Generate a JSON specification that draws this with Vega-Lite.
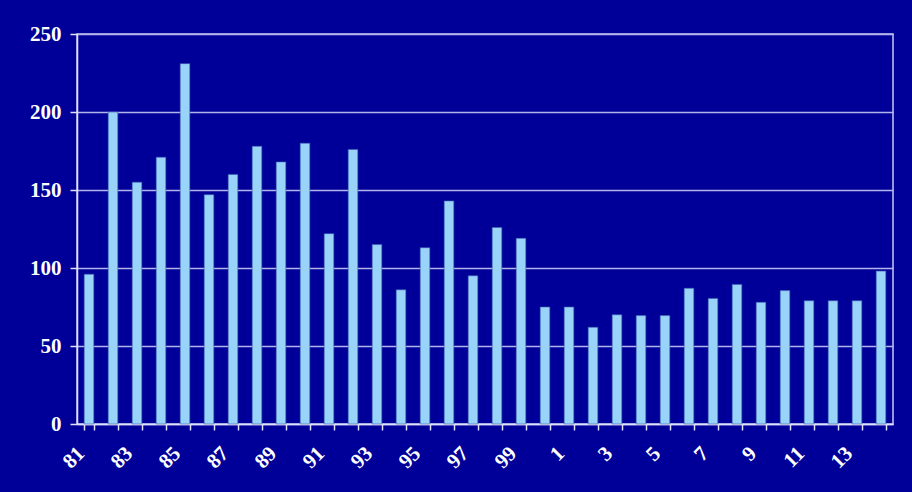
{
  "$schema": "https://vega.github.io/schema/vega-lite/v6.json",
  "autosize": {"type": "none"},
  "width": 816,
  "height": 390,
  "padding": {"left": 77, "top": 34, "right": 19, "bottom": 68},
  "background": "#000099",
  "config": {
    "view": {"stroke": "#c8c8f0", "strokeWidth": 1.5},
    "axis": {"labelFont": "Liberation Serif", "labelFontWeight": "bold", "labelColor": "#ffffff", "labelFontSize": 21, "domainColor": "#e0e0f8", "tickColor": "#e0e0f8", "domainWidth": 1.5, "tickWidth": 1.5}
  },
  "data": {"values": [
    {"year": "81", "value": 96}, {"year": "82", "value": 200}, {"year": "83", "value": 155}, {"year": "84", "value": 171},
    {"year": "85", "value": 231}, {"year": "86", "value": 147}, {"year": "87", "value": 160}, {"year": "88", "value": 178},
    {"year": "89", "value": 168}, {"year": "90", "value": 180}, {"year": "91", "value": 122}, {"year": "92", "value": 176},
    {"year": "93", "value": 115}, {"year": "94", "value": 86}, {"year": "95", "value": 113}, {"year": "96", "value": 143},
    {"year": "97", "value": 95}, {"year": "98", "value": 126}, {"year": "99", "value": 119}, {"year": "0", "value": 75},
    {"year": "1", "value": 75}, {"year": "2", "value": 62}, {"year": "3", "value": 70}, {"year": "4", "value": 69.5},
    {"year": "5", "value": 69.5}, {"year": "6", "value": 87}, {"year": "7", "value": 80.5}, {"year": "8", "value": 89.5},
    {"year": "9", "value": 78}, {"year": "10", "value": 85.5}, {"year": "11", "value": 79}, {"year": "12", "value": 79},
    {"year": "13", "value": 79}, {"year": "14", "value": 98}
  ]},
  "mark": {"type": "bar", "color": "#99d4f8", "stroke": "#3a5fb0", "strokeWidth": 0.6},
  "encoding": {
    "x": {
      "field": "year", "type": "ordinal", "sort": null,
      "scale": {"paddingInner": 0.6, "paddingOuter": 0.3},
      "axis": {
        "title": null, "labelAngle": -45, "labelAlign": "right", "labelBaseline": "middle",
        "tickBand": "extent", "tickSize": 6, "labelPadding": 20, "labelOffset": -8, "grid": false,
        "labelExpr": "indexof(['81','83','85','87','89','91','93','95','97','99','1','3','5','7','9','11','13'], datum.label) >= 0 ? datum.label : ''"
      }
    },
    "y": {
      "field": "value", "type": "quantitative",
      "scale": {"domain": [0, 250]},
      "axis": {
        "title": null, "values": [0, 50, 100, 150, 200, 250], "tickSize": 7, "labelPadding": 9,
        "grid": true, "gridColor": "#b4b4ec", "gridWidth": 1.5
      }
    }
  }
}
